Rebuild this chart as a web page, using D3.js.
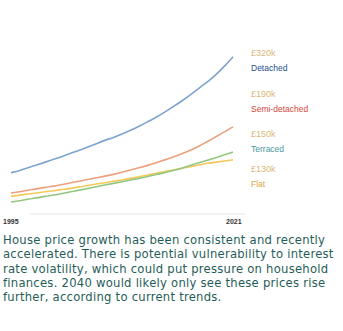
<!DOCTYPE html>
<html><head><meta charset="utf-8">
<script src="https://cdn.jsdelivr.net/npm/d3@7"></script>
<style>
html,body{margin:0;padding:0;background:#fff;}
svg{display:block;font-family:"Liberation Sans",Arial,sans-serif;}
</style></head>
<body><svg id="c" width="343" height="331"></svg>
<script>
const years = d3.range(1995, 2022);
const detached = [104,108,113,118,123,128,133,139,144,150,156,162,167,173,180,187,195,203,212,222,232,243,255,266,279,294,311];
const semiDetached = [68,70,73,75,78,80,83,86,89,92,95,98,101,105,109,113,117,122,127,132,138,144,151,160,168,177,186];
const terraced = [52,54,57,59,62,64,67,70,73,76,79,82,85,88,91,94,97,101,104,108,112,117,122,126,131,136,141];
const flat = [62,64,66,68,70,72,74,76,79,81,84,86,89,91,94,97,100,103,106,109,112,115,118,121,123,125,127];
const seriesNames = ["Detached","Semi-detached","Terraced","Flat"];
const valueLabels = ["£320k","£190k","£150k","£130k"];
const tickLabels = ["1995","2021"];
const bodyLines = [
 "House price growth has been consistent and recently",
 "accelerated. There is potential vulnerability to interest",
 "rate volatility, which could put pressure on household",
 "finances. 2040 would likely only see these prices rise",
 "further, according to current trends."
];

const lineColors = ["#7ea3cc","#eba07e","#93c781","#f3c95a"];
const nameColors = ["#23508f","#d8473c","#4b98a0","#d7aa4a"];
const valueColor = "#d8b777";

const svg = d3.select("#c");
const x = d3.scaleLinear().domain([1995,2021]).range([11,233]);
const y = d3.scaleLinear().domain([0,350]).range([231,35]);

const all = [detached, semiDetached, terraced, flat];
const line = d3.line().x((d,i)=>x(years[i])).y(d=>y(d)).curve(d3.curveBasis);
[3,2,1,0].forEach(k=>{
  svg.append("path").attr("d", line(all[k])).attr("fill","none")
    .attr("stroke", lineColors[k]).attr("stroke-width",1.6);
});

const labelY = [56,97,137,172];
seriesNames.forEach((n,k)=>{
  svg.append("text").attr("x",251).attr("y",labelY[k]).attr("font-size",9)
    .attr("fill",valueColor).text(valueLabels[k]);
  svg.append("text").attr("x",251).attr("y",labelY[k]+15).attr("font-size",8.5)
    .attr("fill",nameColors[k]).text(n);
});

// axis
const axis = d3.axisBottom(x).tickValues([]).tickSize(0);
const g = svg.append("g").attr("transform","translate(0,214)").call(axis);
g.select(".domain").attr("stroke","#e4e4e4").attr("d","M30,0H245");
svg.append("text").attr("x",3).attr("y",224).attr("font-size",7).attr("font-weight","bold").attr("fill","#333").text(tickLabels[0]);
svg.append("text").attr("x",226).attr("y",224).attr("font-size",7).attr("font-weight","bold").attr("fill","#333").text(tickLabels[1]);

const t = svg.append("text").attr("font-size",11.6).attr("fill","#1f5d58")
  .attr("letter-spacing",0.25)
  .attr("font-family","'DejaVu Sans',sans-serif");
bodyLines.forEach((l,i)=>{
  t.append("tspan").attr("x",3).attr("y",244+i*14.3).text(l);
});
</script></body></html>
